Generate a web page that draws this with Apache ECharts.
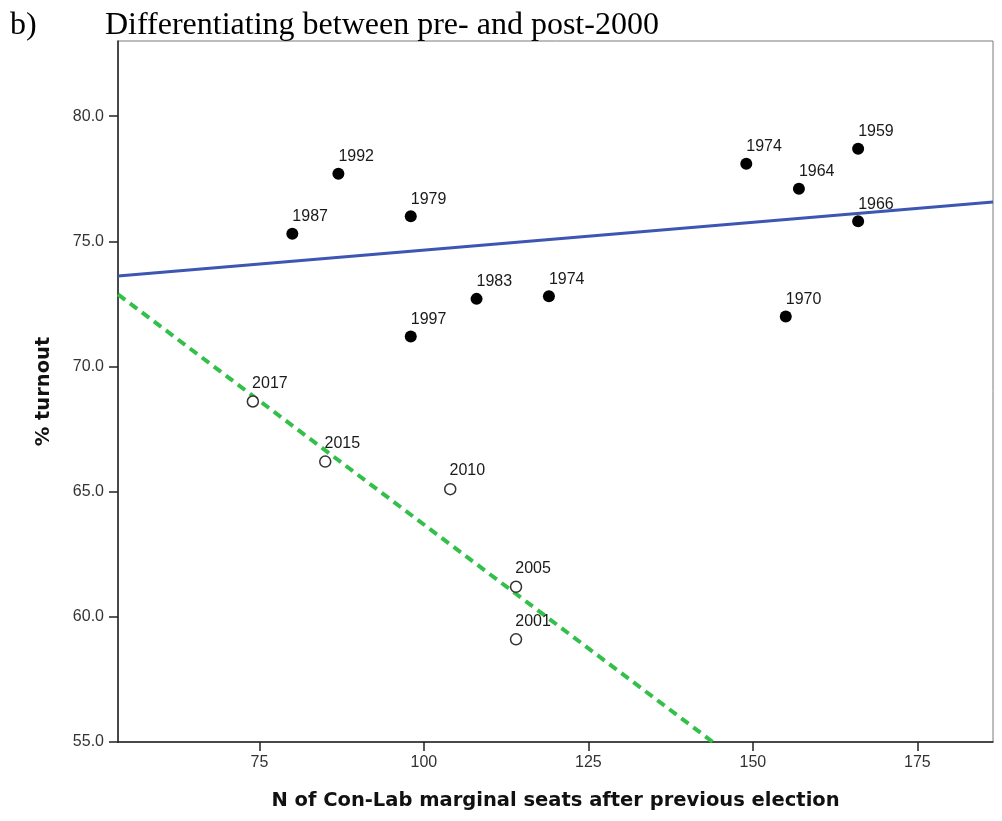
<!DOCTYPE html>
<html>
<head>
<meta charset="utf-8">
<script src="https://cdn.jsdelivr.net/npm/echarts@6/dist/echarts.min.js"></script>
<style>
  html, body { margin: 0; padding: 0; background: #fff; }
  #chart { width: 1002px; height: 821px; }
</style>
</head>
<body>
<div id="chart"></div>
<script>
// Elections before 2000
const preYears   = ['1959', '1964', '1966', '1970', '1974', '1974', '1979', '1983', '1987', '1992', '1997'];
const preSeats   = [166, 157, 166, 155, 149, 119, 98, 108, 80, 87, 98];
const preTurnout = [78.7, 77.1, 75.8, 72.0, 78.1, 72.8, 76.0, 72.7, 75.3, 77.7, 71.2];

// Elections from 2001 on
const postYears   = ['2001', '2005', '2010', '2015', '2017'];
const postSeats   = [114, 114, 104, 85, 74];
const postTurnout = [59.1, 61.2, 65.1, 66.2, 68.6];

// Axis ranges and tick values
const xRange = [53.5, 186.5];
const yRange = [55, 83];
const xTicks = [75, 100, 125, 150, 175];
const yTicks = [55, 60, 65, 70, 75, 80];

// Ordinary least-squares fit, returned as two end points inside the plot
function fitLine(xs, ys) {
  const n = xs.length;
  const mx = xs.reduce((a, b) => a + b, 0) / n;
  const my = ys.reduce((a, b) => a + b, 0) / n;
  let sxy = 0, sxx = 0;
  for (let i = 0; i < n; i++) {
    sxy += (xs[i] - mx) * (ys[i] - my);
    sxx += (xs[i] - mx) * (xs[i] - mx);
  }
  const b = sxy / sxx;
  const a = my - b * mx;
  const f = x => a + b * x;
  const clipX = y => (y - a) / b;
  let x0 = xRange[0], x1 = xRange[1];
  // keep the line within the vertical range
  if (f(x0) < yRange[0]) x0 = clipX(yRange[0]);
  if (f(x0) > yRange[1]) x0 = clipX(yRange[1]);
  if (f(x1) < yRange[0]) x1 = clipX(yRange[0]);
  if (f(x1) > yRange[1]) x1 = clipX(yRange[1]);
  return [[x0, f(x0)], [x1, f(x1)]];
}

const prePoints  = preSeats.map((x, i) => [x, preTurnout[i]]);
const postPoints = postSeats.map((x, i) => [x, postTurnout[i]]);

const sans = 'Liberation Sans, Arial, sans-serif';
const serifFont = '"Liberation Serif", "Times New Roman", serif';
const labelFont = { fontFamily: sans, fontSize: 16, color: '#1a1a1a' };
const nameFont = { fontFamily: '"DejaVu Sans", Verdana, sans-serif', fontSize: 19.5, fontWeight: 'bold', color: '#111' };

const chart = echarts.init(document.getElementById('chart'), null, { renderer: 'canvas' });

chart.setOption({
  animation: false,
  backgroundColor: '#fff',
  graphic: [
    { type: 'text', left: 10, top: 10,
      style: { text: 'b)', font: '32px ' + serifFont, fill: '#000' } },
    { type: 'text', left: 105, top: 10,
      style: { text: 'Differentiating between pre- and post-2000', font: '32px ' + serifFont, fill: '#000' } }
  ],
  grid: {
    left: 118, right: 9, top: 41, bottom: 79,
    show: true, borderColor: '#7a7a7a', borderWidth: 1,
    outerBoundsMode: 'none'
  },
  xAxis: {
    type: 'value',
    min: xRange[0], max: xRange[1],
    name: 'N of Con-Lab marginal seats after previous election',
    nameLocation: 'middle',
    nameGap: 49,
    nameTextStyle: nameFont,
    axisLine: { show: true, lineStyle: { color: '#222', width: 1.5 } },
    axisTick: { show: true, length: 9, lineStyle: { color: '#222', width: 1.5 }, customValues: xTicks },
    axisLabel: Object.assign({ margin: 13, customValues: xTicks }, labelFont, { color: '#333' }),
    splitLine: { show: false }
  },
  yAxis: {
    type: 'value',
    min: yRange[0], max: yRange[1],
    name: '% turnout',
    nameLocation: 'middle',
    nameGap: 64,
    nameTextStyle: nameFont,
    axisLine: { show: true, lineStyle: { color: '#222', width: 1.5 } },
    axisTick: { show: true, length: 9, lineStyle: { color: '#222', width: 1.5 }, customValues: yTicks },
    axisLabel: Object.assign({ margin: 14, customValues: yTicks, formatter: v => v.toFixed(1) }, labelFont, { color: '#333' }),
    splitLine: { show: false }
  },
  series: [
    {
      name: 'pre-2000 fit',
      type: 'line',
      data: fitLine(preSeats, preTurnout),
      showSymbol: false,
      silent: true,
      z: 2,
      lineStyle: { color: '#3d56b2', width: 3 }
    },
    {
      name: 'post-2000 fit',
      type: 'line',
      data: fitLine(postSeats, postTurnout),
      showSymbol: false,
      silent: true,
      z: 2,
      lineStyle: { color: '#33c04a', width: 4, type: [9, 6] }
    },
    {
      name: 'pre-2000',
      type: 'scatter',
      data: prePoints,
      symbol: 'circle',
      symbolSize: 12,
      z: 3,
      itemStyle: { color: '#000', opacity: 1 },
      label: Object.assign({
        show: true,
        position: [6, -3],
        align: 'left',
        verticalAlign: 'bottom',
        formatter: p => preYears[p.dataIndex]
      }, labelFont)
    },
    {
      name: 'post-2000',
      type: 'scatter',
      data: postPoints,
      symbol: 'circle',
      symbolSize: 11,
      z: 3,
      itemStyle: { color: '#fff', borderColor: '#333', borderWidth: 1.5, opacity: 1 },
      label: Object.assign({
        show: true,
        position: [5.5, -4],
        align: 'left',
        verticalAlign: 'bottom',
        formatter: p => postYears[p.dataIndex]
      }, labelFont)
    }
  ]
});
</script>
</body>
</html>
